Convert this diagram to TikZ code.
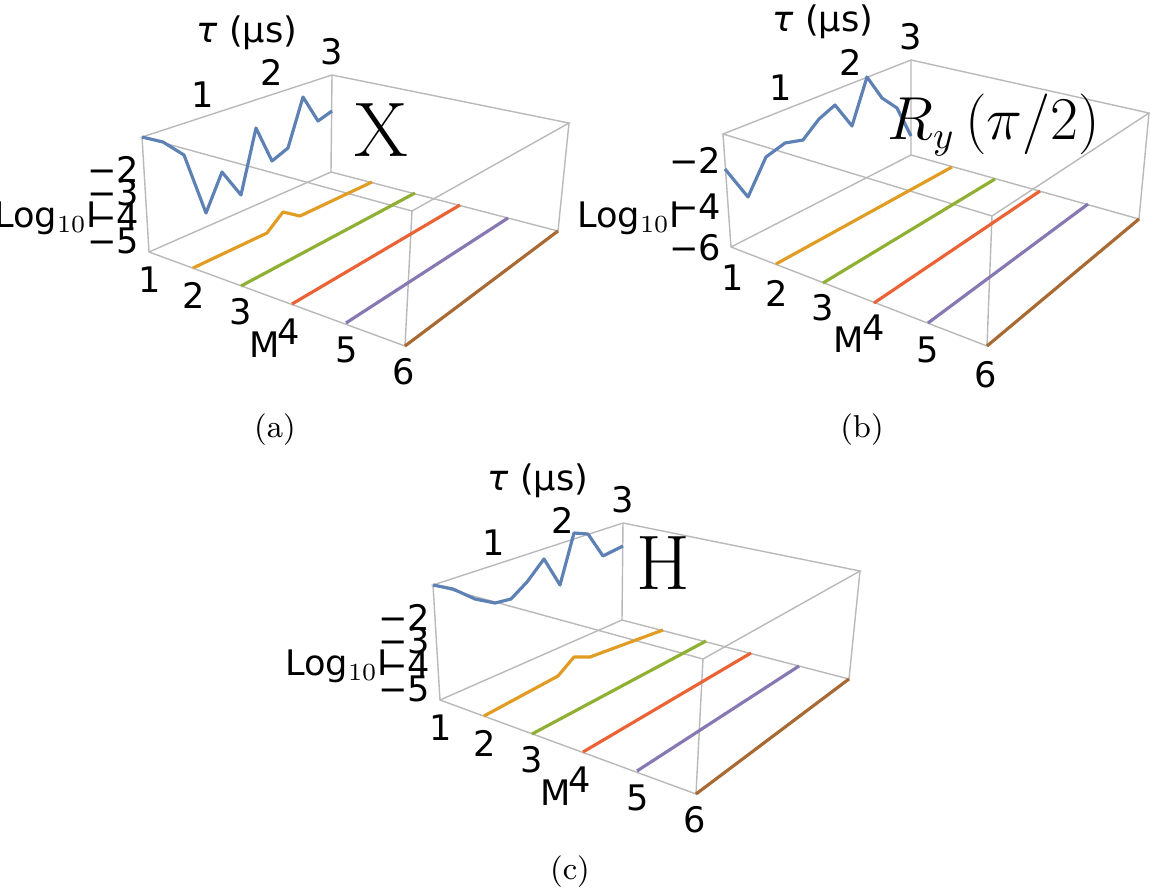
\documentclass[tikz,border=0pt]{standalone}
\usepackage{fontspec}
\newfontfamily\ticksfont{DejaVu Sans}
\usepackage{xcolor}
\definecolor{mblue}{HTML}{5E81B5}
\definecolor{morange}{HTML}{E19C24}
\definecolor{mgreen}{HTML}{8FB032}
\definecolor{mred}{HTML}{EB6235}
\definecolor{mpurple}{HTML}{8778B3}
\definecolor{mbrown}{HTML}{A86A32}
\tikzset{
  frame/.style={gray!55, line width=0.4pt},
  curve/.style={line width=0.9pt, line join=round},
  tick/.style={font=\ticksfont\fontsize{10}{11}\selectfont, inner sep=0pt},
  gate/.style={font=\fontsize{22}{23}\selectfont, inner sep=0pt},
  caption/.style={font=\fontsize{9}{10}\selectfont, inner sep=0pt}
}
\begin{document}
\begin{tikzpicture}[x=0.01cm, y=-0.01cm]
  \useasboundingbox (0,0) rectangle (1150,890);

  % Panel (a) and (c) share one box
  \foreach \dx/\dy in {0/0, 291/448}{
    \begin{scope}[shift={(\dx,\dy)}]
      \draw[frame] (142,137) -- (332,75) -- (569,123) -- (412,211) -- cycle;
      \draw[frame] (142,137) -- (149,252) -- (405,346) -- (412,211);
      \draw[frame] (332,75) -- (331,172) -- (149,252);
      \draw[frame] (331,172) -- (558,231) -- (569,123);
      \draw[mgreen, curve] (241,286) -- (415,193);
      \draw[mred, curve] (292,304) -- (460,205);
      \draw[mpurple, curve] (346,323) -- (508,218);
      \draw[mbrown, curve] (405,346) -- (558,231);
      % tick labels
      \node[tick] at (247,33) {\itshape τ\/ \upshape(μs)};
      \foreach \t/\x/\y in {1/203/95, 2/272/72, 3/332/52}
        \node[tick] at (\x,\y) {\t};
      \foreach \m/\x/\y in {1/150/280, 2/194/295, 3/241/312, 4/289/332, 5/347/350, 6/404/372}
        \node[tick] at (\x,\y) {\m};
      \node[tick] at (265,345) {M};
      \foreach \v/\y in {2/169, 3/193, 4/217, 5/241}
        \node[tick, anchor=east] at (140,\y) {−\v};
      \node[tick, anchor=east] at (98,218) {Log$_{10}$I};
    \end{scope}
  }

  % Panel (a) data
  \draw[mblue, curve] (142,137) -- (163,142) -- (184,155) -- (206,213) -- (222,172)
    -- (241,195) -- (256,128) -- (272,161) -- (288,148) -- (303,97) -- (318,121) -- (332,111);
  \draw[morange, curve] (193,268) -- (267,233) -- (283,212) -- (300,216) -- (372,182);
  \node[gate] at (381,130) {X};
  \node[caption] at (275,430) {(a)};

  % Panel (c) data
  \begin{scope}[shift={(291,448)}]
    \draw[mblue, curve] (142,137) -- (162,141) -- (184,151) -- (204,155) -- (220,151)
      -- (236,134) -- (253,111) -- (269,137) -- (283,85) -- (297,86) -- (312,108) -- (332,98);
    \draw[morange, curve] (193,268) -- (267,228) -- (283,209) -- (299,209) -- (372,182);
    \node[gate] at (372,115) {H};
    \node[caption] at (279,424) {(c)};
  \end{scope}

  % Panel (b)
  \draw[frame] (723,134) -- (911,60) -- (1149,113) -- (992,216) -- cycle;
  \draw[frame] (723,134) -- (731,247) -- (987,346) -- (992,216);
  \draw[frame] (911,60) -- (911,155) -- (731,247);
  \draw[frame] (911,155) -- (1139,219) -- (1149,113);
  \draw[morange, curve] (776,264) -- (952,167);
  \draw[mgreen, curve] (823,283) -- (995,179);
  \draw[mred, curve] (874,303) -- (1040,191);
  \draw[mpurple, curve] (928,323) -- (1088,204);
  \draw[mbrown, curve] (987,346) -- (1139,219);
  \draw[mblue, curve] (725,169) -- (748,197) -- (766,157) -- (785,143) -- (803,140) -- (819,119)
    -- (835,105) -- (852,126) -- (867,77) -- (882,98) -- (897,108) -- (911,136);
  \node[tick] at (823,22) {\itshape τ\/ \upshape(μs)};
  \foreach \t/\x/\y in {1/781/88, 2/851/62, 3/911/37}
    \node[tick] at (\x,\y) {\t};
  \foreach \m/\x/\y in {1/733/278, 2/777/293, 3/823/308, 4/874/328, 5/928/350, 6/986/375}
    \node[tick] at (\x,\y) {\m};
  \node[tick] at (849,340) {M};
  \foreach \v/\y in {2/160, 4/207, 6/248}
    \node[tick, anchor=east] at (722,\y) {−\v};
  \node[tick, anchor=east] at (681,218) {Log$_{10}$I};
  \node[gate, font=\fontsize{16}{17}\selectfont] at (994,125) {$R_y\left(\pi/2\right)$};
  \node[caption] at (862,430) {(b)};
\end{tikzpicture}
\end{document}
